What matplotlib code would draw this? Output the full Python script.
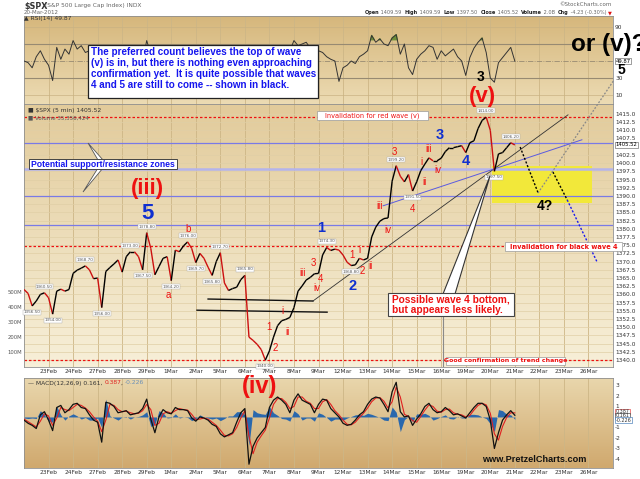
import numpy as np
import matplotlib
matplotlib.use('Agg')
import matplotlib.pyplot as plt
from matplotlib.collections import LineCollection
from matplotlib.colors import LinearSegmentedColormap
from matplotlib.patches import Rectangle, Polygon
from matplotlib.lines import Line2D

plt.rcParams['font.family'] = ['Liberation Sans', 'DejaVu Sans']

# ---------------- data ----------------
SAMPLES_PER_DAY = 6   # one sample roughly every 65 minutes of the 5-min chart
dates = ['22Feb', '23Feb', '24Feb', '27Feb', '28Feb', '29Feb', '1Mar', '2Mar', '5Mar', '6Mar',
         '7Mar', '8Mar', '9Mar', '12Mar', '13Mar', '14Mar', '15Mar', '16Mar', '19Mar', '20Mar',
         '21Mar', '22Mar', '23Mar', '26Mar']

spx = [1361.5, 1360.3, 1356.5, 1358.0, 1360.0, 1360.5, 1359.0, 1354.0, 1361.0, 1361.6,
       1361.0, 1361.5, 1366.4, 1367.4, 1368.0, 1368.7, 1367.5, 1364.8, 1365.0, 1356.0,
       1367.0, 1368.2, 1369.3, 1370.5, 1366.8, 1371.5, 1373.0, 1373.0, 1371.5, 1367.5,
       1378.8, 1374.0, 1366.0, 1368.5, 1371.0, 1371.5, 1364.2, 1373.5, 1373.0, 1374.8,
       1376.0, 1374.0, 1369.7, 1372.5, 1371.0, 1368.3, 1365.8, 1370.0, 1372.7, 1363.5,
       1361.2, 1361.8, 1362.2, 1364.5, 1365.8, 1347.0, 1346.0, 1344.8, 1343.2, 1340.0,
       1342.8, 1347.0, 1350.5, 1352.0, 1352.4, 1353.0, 1356.0, 1361.0, 1362.6, 1364.4,
       1365.2, 1366.3, 1366.4, 1372.0, 1374.3, 1373.4, 1373.8, 1373.5, 1372.0, 1369.8,
       1368.8, 1369.0, 1371.0, 1370.5, 1371.0, 1377.5, 1380.5, 1382.3, 1383.1, 1383.3,
       1394.5, 1399.2, 1396.0, 1394.3, 1396.5, 1391.5, 1394.3, 1397.7, 1399.7, 1401.6,
       1400.7, 1400.7, 1401.5, 1403.5, 1404.7, 1404.7, 1405.0, 1405.3, 1403.2, 1406.2,
       1406.8, 1410.5, 1413.0, 1414.0, 1410.0, 1397.5, 1402.8, 1403.2, 1404.7, 1406.2,
       1405.52]

rsi = [50, 48, 42, 55, 62, 52, 45, 27, 66, 52,
       64, 58, 74, 64, 68, 60, 62, 55, 58, 35,
       67, 60, 64, 58, 45, 66, 62, 60, 55, 50,
       74, 58, 40, 58, 62, 55, 42, 66, 60, 63,
       65, 55, 50, 60, 55, 50, 46, 60, 68, 40,
       45, 52, 55, 62, 66, 28, 40, 38, 40, 30,
       50, 60, 66, 60, 58, 62, 74, 68, 70, 72,
       65, 66, 62, 60, 55, 52, 50, 26, 42, 45,
       50, 47, 55, 58, 62, 80, 72, 76, 70, 68,
       77, 81, 58, 70, 42, 34, 52, 58, 62, 68,
       66, 52, 62, 56, 60, 64, 55, 50, 33, 54,
       65, 72, 77, 60, 30, 25, 48, 54, 60, 66,
       49.87]

macd = [-0.3, -0.6, -0.8, -1.1, 0.2, 0.5, -0.3, -1.3, 0.9, 1.1,
        0.4, 0.7, 1.2, 1.3, 0.9, 0.8, 0.2, -0.3, -0.5, -2.4,
        1.4, 1.3, 1.0, 0.4, 0.5, 0.6, 0.2, 0.3, 0.4, 0.8,
        1.7, -0.2, -1.5, 0.0, 0.7, 0.4, 0.3, 0.9, 0.7, 0.7,
        0.6, -0.1, -0.4, 0.0, -0.1, -0.3, -0.7, -0.9, -1.6, -1.9,
        -1.7, -1.5, -0.5, 0.4, 0.8, -4.5, -2.8, -2.0, -1.5, -1.0,
        0.9, 1.6, 1.9, 1.6, 1.2, 0.4, 1.6, 2.2, 1.6, 1.4,
        1.2, 0.4, 1.2, 1.7, 1.6, 0.8, 0.4, 0.0, -0.6, -0.8,
        -0.7, -0.3, 0.2, 0.5, 1.2, 1.7, 1.9, 1.8, 1.2, 0.5,
        2.4, 3.3, 0.5, 0.0, 0.1, -0.8, -0.2, 0.3, 1.0, 1.3,
        0.7, 0.4, 0.5, 0.9, 0.6, 0.2, 0.3, 0.1, -0.1, 0.4,
        0.9, 1.3, 1.3, 1.0, -0.3, -3.0, -1.5, -0.3, 0.2, 0.6,
        0.161]

signal = [-0.2, -0.45, -0.7, -0.95, -0.4, 0.3, 0.1, -0.8, -0.1, 0.9,
          0.7, 0.6, 0.9, 1.2, 1.1, 0.85, 0.5, 0.0, -0.4, -1.4,
          -0.3, 1.2, 1.1, 0.7, 0.5, 0.55, 0.4, 0.3, 0.35, 0.6,
          1.2, 0.7, -0.8, -0.6, 0.3, 0.5, 0.35, 0.6, 0.8, 0.7,
          0.65, 0.25, -0.25, -0.2, -0.1, -0.2, -0.5, -0.8, -1.25, -1.75,
          -1.8, -1.6, -1.0, -0.1, 0.6, -1.8, -3.5, -2.4, -1.8, -1.25,
          -0.1, 1.2, 1.75, 1.75, 1.4, 0.8, 1.0, 1.9, 1.9, 1.5,
          1.3, 0.8, 0.8, 1.45, 1.65, 1.2, 0.6, 0.2, -0.3, -0.7,
          -0.75, -0.5, -0.05, 0.35, 0.85, 1.45, 1.8, 1.85, 1.5, 0.85,
          1.45, 2.85, 1.9, 0.25, 0.05, -0.35, -0.5, 0.05, 0.65, 1.15,
          1.0, 0.55, 0.45, 0.7, 0.75, 0.4, 0.25, 0.2, 0.0, 0.15,
          0.65, 1.1, 1.3, 1.15, 0.35, -1.6, -2.2, -0.9, -0.05, 0.4,
          0.387]

blue_levels = [1406.2, 1398.2, 1390.0, 1381.1]
red_levels = [1414.00, 1374.76, 1340.03]
high_marks = [5, 15, 26, 30, 40, 48, 54, 74, 91, 113, 119]
low_marks = [2, 7, 19, 29, 36, 42, 46, 59, 80, 95, 115]
vol_labels = ['500M', '400M', '300M', '200M', '100M']

# ---------------- figure ----------------
W, H = 640, 479
fig = plt.figure(figsize=(6.4, 4.79), dpi=100)
fig.patch.set_facecolor('white')


def rect_px(x0, y0, x1, y1):
    return [x0 / W, 1 - y1 / H, (x1 - x0) / W, (y1 - y0) / H]


def px(x, y):
    return x / W, 1 - y / H


ax_r = fig.add_axes(rect_px(24, 16, 613, 104))
ax = fig.add_axes(rect_px(24, 104, 613, 367))
ax_m = fig.add_axes(rect_px(24, 378, 613, 468))

ndays = len(dates)
XMAX = ndays * SAMPLES_PER_DAY
t = np.arange(len(spx))


def gradient(a, top, bottom):
    cmap = LinearSegmentedColormap.from_list('g', [top, bottom])
    a.imshow(np.linspace(0, 1, 64).reshape(-1, 1), cmap=cmap, aspect='auto',
             extent=[0, 1, 0, 1], transform=a.transAxes, zorder=0,
             interpolation='bilinear')


gradient(ax_r, '#d6b77c', '#ecdbb3')
gradient(ax, '#e2cb9b', '#f7efd8')
gradient(ax_m, '#e9d6ac', '#d0a96e')

day_edges = [SAMPLES_PER_DAY * d for d in range(1, ndays)]
for a in (ax_r, ax, ax_m):
    a.set_xlim(0, XMAX)
    for xv in day_edges:
        a.axvline(xv, color='#cdb686', lw=0.6, zorder=1)
    for s in a.spines.values():
        s.set_color('#8f8f8f')
        s.set_linewidth(0.6)
    a.tick_params(length=0, labelsize=4.2, colors='#333333', pad=1.5)
    a.yaxis.tick_right()

# ---------------- RSI panel ----------------
ax_r.set_ylim(-0.6, 102.9)
for lv in (10, 90):
    ax_r.axhline(lv, color='#c9b283', lw=0.5, zorder=1)
for lv in (30, 70):
    ax_r.axhline(lv, color='#978a72', lw=0.8, zorder=1)
ax_r.axhline(50, color='#978a72', lw=0.6, ls='-.', zorder=1)
rsi_a = np.array(rsi, float)
ax_r.fill_between(t, 75, rsi_a, where=rsi_a > 75, interpolate=True, color='#6e8f3a', zorder=2)
ax_r.plot(t, rsi_a, color='#333333', lw=0.7, zorder=3)
ax_r.set_yticks([10, 30, 90])
ax_r.set_yticklabels(['10', '30', '90'], family='DejaVu Sans')
ax_r.set_xticks([])
ax_r.text(0.0, 1.0, u'\u25b2 RSI(14) 49.87', transform=ax_r.transAxes, fontsize=4.3,
          color='#333', va='top', ha='left', family='DejaVu Sans')
ax_r.text(1.004, rsi[-1], '%.2f' % rsi[-1], transform=ax_r.get_yaxis_transform(),
          fontsize=3.8, va='center', ha='left', family='DejaVu Sans',
          bbox=dict(boxstyle='square,pad=0.15', fc='white', ec='#555', lw=0.4))

# ---------------- price panel ----------------
ax.set_ylim(1337.9, 1418.0)
levels = np.arange(1340, 1415.1, 2.5)
for lv in levels:
    ax.axhline(lv, color='#e0cfa6', lw=0.5, zorder=1)
ax.set_yticks(levels)
ax.set_yticklabels(['' if abs(v - 1405.0) < 0.01 else '%.1f' % v for v in levels], family='DejaVu Sans')
ax.set_xticks(day_edges)
ax.set_xticklabels(dates[1:], family='DejaVu Sans')

# yellow zone
ax.add_patch(Rectangle((114.4, 1387.9), 138.9 - 114.4, 1399.1 - 1387.9,
                       facecolor='#f2e83a', edgecolor='none', zorder=1.5))

for i, lv in enumerate(blue_levels):
    if i == 1:
        ax.axhline(lv, color='#b4b4ec', lw=1.8, zorder=2)
    else:
        ax.axhline(lv, color='#7a7ae6', lw=0.9, zorder=2)
for lv in red_levels:
    ax.axhline(lv, color='#ee1111', lw=0.9, ls=(0, (2, 1.6)), zorder=2)

# trend lines
ax.plot([45.0, 70.65], [1358.6, 1358.0], color='#111', lw=1.0, zorder=3)
ax.plot([42.3, 74.1], [1355.2, 1354.6], color='#111', lw=1.0, zorder=3)
ax.plot([70.65, 133.0], [1358.0, 1414.7], color='#333', lw=0.6, zorder=3)
ax.plot([87.8, 136.4], [1387.0, 1407.1], color='#5a5ae0', lw=0.7, zorder=3)

# projections
ax.plot([121.3, 125.7], [1404.9, 1390.9], color='black', lw=1.0, ls=(0, (1.5, 1.3)), zorder=3)
ax.plot([129.3, 132.8], [1397.3, 1388.8], color='black', lw=1.0, ls=(0, (1.5, 1.3)), zorder=3)
ax.plot([132.8, 140.1], [1388.8, 1369.9], color='#1a1aee', lw=1.0, ls=(0, (1.5, 1.3)), zorder=3)

# price path
pts = np.column_stack([t, spx])
segs = np.stack([pts[:-1], pts[1:]], axis=1)
cols = ['#cc1010' if b < a else '#000000' for a, b in zip(spx[:-1], spx[1:])]
ax.add_collection(LineCollection(segs, colors=cols, linewidths=1.0, zorder=4))

# price flags
for k in high_marks:
    ax.annotate('%.2f' % spx[k], (k, spx[k]), xytext=(0, 3), textcoords='offset points',
                ha='center', va='bottom', fontsize=3.0, color='#555', family='DejaVu Sans',
                bbox=dict(boxstyle='square,pad=0.12', fc='white', ec='#aaa', lw=0.3), zorder=5)
for k in low_marks:
    ax.annotate('%.2f' % spx[k], (k, spx[k]), xytext=(0, -3), textcoords='offset points',
                ha='center', va='top', fontsize=3.0, color='#555', family='DejaVu Sans',
                bbox=dict(boxstyle='square,pad=0.12', fc='white', ec='#aaa', lw=0.3), zorder=5)

ax.text(1.004, spx[-1], '%.2f' % spx[-1], transform=ax.get_yaxis_transform(),
        fontsize=3.8, va='center', ha='left', family='DejaVu Sans',
        bbox=dict(boxstyle='square,pad=0.15', fc='white', ec='#555', lw=0.4))

ax.text(0.006, 0.985, u'\u25a0 $SPX (5 min) 1405.52', transform=ax.transAxes, fontsize=4.3,
        color='#333', va='top', ha='left', family='DejaVu Sans', zorder=6)
ax.text(0.006, 0.958, u'\u25a0 Volume 35,356,424', transform=ax.transAxes, fontsize=4.0,
        color='#555', va='top', ha='left', family='DejaVu Sans', zorder=6)

# wave labels (price coordinates)
red_small = [('b', 40.1, 1380.0), ('a', 35.4, 1359.8), ('1', 59.9, 1350.1), ('2', 61.4, 1343.7),
             ('i', 63.3, 1355.0), ('ii', 64.3, 1348.5), ('iii', 68.2, 1366.5), ('3', 70.7, 1369.6),
             ('iv', 71.6, 1362.0), ('4', 72.6, 1364.7), ('1', 80.2, 1372.0), ('i', 81.9, 1373.4),
             ('2', 82.6, 1367.1), ('ii', 84.8, 1368.7), ('iii', 87.0, 1387.0), ('iv', 89.0, 1379.6),
             ('3', 90.5, 1403.4), ('4', 95.1, 1386.0), ('i', 97.1, 1400.4), ('ii', 97.8, 1394.3),
             ('iii', 99.0, 1404.3), ('iv', 101.2, 1397.9)]
for s, x, y in red_small:
    ax.text(x, y, s, color='#ee1111', fontsize=7, ha='center', va='center', zorder=6)
for s, x, y in [('1', 72.6, 1380.2), ('2', 80.4, 1362.6), ('3', 101.7, 1408.6), ('4', 108.1, 1400.7)]:
    ax.text(x, y, s, color='#1030d0', fontsize=10.5, fontweight='bold', ha='center', va='center', zorder=6)
ax.text(30.1, 1392.3, '(iii)', color='#ee1111', fontsize=16, fontweight='bold', ha='center', va='center', zorder=6)
ax.text(30.1, 1384.6, '5', color='#1030d0', fontsize=16, fontweight='bold', ha='center', va='center', zorder=6)
ax.text(127.4, 1387.0, '4?', color='black', fontsize=10, fontweight='bold', ha='center', va='center', zorder=6)

# ---------------- MACD panel ----------------
ax_m.set_ylim(-4.86, 3.71)
macd_a = np.array(macd, float)
sig_a = np.array(signal, float)
hist = macd_a - sig_a
ax_m.fill_between(t, 0, hist, color='#2a68ad', lw=0, zorder=2)
ax_m.plot(t, sig_a, color='#e02020', lw=0.8, zorder=3)
ax_m.plot(t, macd_a, color='#111111', lw=0.9, zorder=4)
ax_m.set_yticks([-4, -3, -2, -1, 1, 2, 3])
ax_m.set_yticklabels(['-4', '-3', '-2', '-1', '1', '2', '3'], family='DejaVu Sans')
ax_m.set_xticks(day_edges)
ax_m.set_xticklabels(dates[1:], family='DejaVu Sans')
for v, ec, yy in [(signal[-1], '#e02020', 0.52), (macd[-1], '#222', 0.12), (hist[-1], '#2a68ad', -0.3)]:
    ax_m.text(1.004, yy, '%.3f' % v, transform=ax_m.get_yaxis_transform(), fontsize=3.5,
              va='center', ha='left', family='DejaVu Sans', color='#333',
              bbox=dict(boxstyle='square,pad=0.1', fc='white', ec=ec, lw=0.4))

# legend pieces
renderer = fig.canvas.get_renderer()


def seq(x, y, pieces, fs, right=False):
    items = pieces[::-1] if right else pieces
    cx = x
    for s, w, c in items:
        tt = fig.text(cx / W, 1 - y / H, s, fontsize=fs, fontweight=w, color=c,
                      ha='right' if right else 'left', va='center', family='DejaVu Sans')
        wd = tt.get_window_extent(renderer).width
        cx = cx - wd if right else cx + wd


seq(28, 383, [(u'\u2014 MACD(12,26,9) 0.161, ', 'normal', '#333'), ('0.387', 'normal', '#e02020'),
              (', ', 'normal', '#333'), ('-0.226', 'normal', '#6a8fb8')], 4.3)

# header
fig.text(24 / W, 1 - 6 / H, '$SPX', fontsize=5.8, fontweight='bold', color='#333', va='center', family='DejaVu Sans')
fig.text(45 / W, 1 - 6 / H, '(S&P 500 Large Cap Index) INDX', fontsize=4.2, color='#666', va='center', family='DejaVu Sans')
fig.text(24 / W, 1 - 12.5 / H, '20-Mar-2012', fontsize=4.0, color='#666', va='center', family='DejaVu Sans')
fig.text(612 / W, 1 - 5 / H, u'\u00a9StockCharts.com', fontsize=4.0, color='#666', va='center', ha='right', family='DejaVu Sans')
seq(612, 12.5, [('Open', 'bold', '#222'), (' 1409.59  ', 'normal', '#666'), ('High', 'bold', '#222'),
                (' 1409.59  ', 'normal', '#666'), ('Low', 'bold', '#222'), (' 1397.50  ', 'normal', '#666'),
                ('Close', 'bold', '#222'), (' 1405.52  ', 'normal', '#666'), ('Volume', 'bold', '#222'),
                (' 2.0B  ', 'normal', '#666'), ('Chg', 'bold', '#222'), (' -4.23 (-0.30%) ', 'normal', '#666'),
                (u'\u25bc', 'normal', '#dd1111')], 3.6, right=True)

# volume axis labels
for i, s in enumerate(vol_labels):
    fig.text(22 / W, 1 - (292 + 15.2 * i) / H, s, fontsize=3.8, color='#555', ha='right', va='center', family='DejaVu Sans')

# ---------------- overlay annotations (figure pixels) ----------------
def box(x0, y0, x1, y1, ec='black', lw=0.8):
    fig.add_artist(Rectangle(px(x0, y1), (x1 - x0) / W, (y1 - y0) / H, transform=fig.transFigure,
                             facecolor='white', edgecolor=ec, lw=lw, zorder=5))


def ftext(x, y, s, **kw):
    kw.setdefault('zorder', 6)
    fig.text(x / W, 1 - y / H, s, **kw)


def fline(xs, ys, **kw):
    fig.add_artist(Line2D([x / W for x in xs], [1 - y / H for y in ys], transform=fig.transFigure, **kw))


# grey projection up to "or (v)"
fline([538, 614], [193, 80], color='#888', lw=0.9, ls=(0, (1.5, 1.3)), zorder=4)

box(88, 45, 318, 98, ec='#222', lw=0.9)
ftext(91, 47, 'The preferred count believes the top of wave\n(v) is in, but there is nothing even approaching\n'
      'confirmation yet.  It is quite possible that waves\n4 and 5 are still to come -- shown in black.',
      fontsize=7.1, fontweight='bold', color='#1515ee', va='top', ha='left', linespacing=1.12)

# support/resistance callout
fig.add_artist(Polygon([px(88, 143), px(98, 160), px(103, 160)], closed=True, transform=fig.transFigure,
                       facecolor='white', edgecolor='#555', lw=0.6, zorder=5))
fig.add_artist(Polygon([px(83, 192), px(98, 168), px(103, 168)], closed=True, transform=fig.transFigure,
                       facecolor='white', edgecolor='#555', lw=0.6, zorder=5))
box(29, 159, 177, 169, ec='#444', lw=0.7)
ftext(103, 164.2, 'Potential support/resistance zones', fontsize=6.2, fontweight='bold', color='#1515ee',
      ha='center', va='center')

box(317, 111, 428, 119.5, ec='#999', lw=0.5)
ftext(372.5, 115.3, 'Invalidation for red wave (v)', fontsize=4.8, color='#ee1111', ha='center', va='center',
      family='DejaVu Sans')
box(505, 242, 622, 251, ec='#999', lw=0.5)
ftext(563.5, 246.6, 'Invalidation for black wave 4', fontsize=4.8, fontweight='bold', color='#ee1111',
      ha='center', va='center', family='DejaVu Sans')
box(446, 356.5, 565, 364.5, ec='#999', lw=0.5)
ftext(505.5, 360.6, 'Good confirmation of trend change', fontsize=4.5, fontweight='bold', color='#ee1111',
      ha='center', va='center', family='DejaVu Sans')

# wave-4 callout
fline([443, 443], [316, 366], color='#8a8a8a', lw=0.8, zorder=4)
fig.add_artist(Polygon([px(443, 294), px(490, 176), px(455, 294)], closed=True, transform=fig.transFigure,
                       facecolor='white', edgecolor='#333', lw=0.8, zorder=5))
box(388, 293, 514, 316, ec='#444', lw=0.8)
ftext(392, 304.5, 'Possible wave 4 bottom,\nbut appears less likely.', fontsize=7.3, fontweight='bold',
      color='#ee1111', ha='left', va='center', linespacing=1.1)

# big labels above/below panels
ftext(482, 97, '(v)', fontsize=16, fontweight='bold', color='#ee1111', ha='center', va='center')
ftext(481, 77, '3', fontsize=10, fontweight='bold', color='black', ha='center', va='center')
ftext(571, 45, 'or (v)?', fontsize=17.5, fontweight='bold', color='black', ha='left', va='center')
ftext(621, 70, '5', fontsize=10, fontweight='bold', color='black', ha='center', va='center')
ftext(260, 386, '(iv)', fontsize=17, fontweight='bold', color='#ee1111', ha='center', va='center')
ftext(534, 459, 'www.PretzelCharts.com', fontsize=6.6, fontweight='bold', color='#111', ha='center', va='center')

fig.savefig('out.png', dpi=100)
